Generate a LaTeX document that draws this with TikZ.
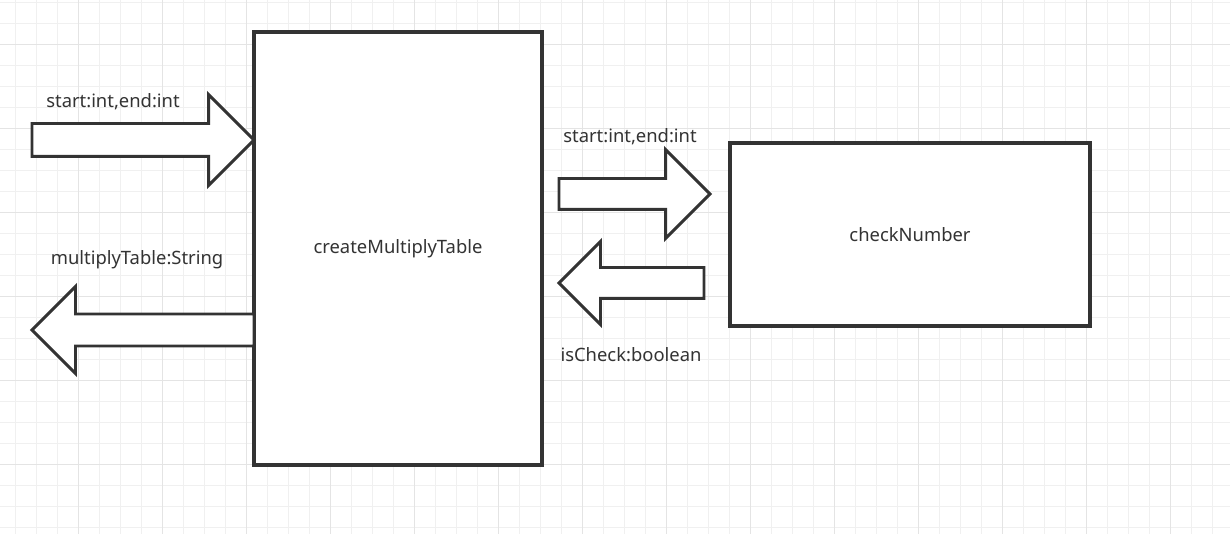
\documentclass[tikz,border=0pt]{standalone}
\usepackage{fontspec}
\setmainfont{Noto Sans}
\usepackage{tikz}
\usetikzlibrary{shapes.arrows, positioning}
\definecolor{ink}{HTML}{333333}
\definecolor{gridminor}{HTML}{F0F0F0}
\definecolor{gridmajor}{HTML}{E4E4E4}
\newcommand{\labelsize}{\fontsize{13.8}{16}\selectfont}

\begin{document}
\begin{tikzpicture}[
  x=0.75pt, y=-0.75pt,
  func/.style={draw=ink, line width=2.7pt, fill=white, inner sep=0pt, outer sep=0pt, text=ink},
  barrow/.style={single arrow, draw=ink, line width=2.2pt, fill=white, inner xsep=0pt, single arrow tip angle=90, outer sep=0pt},
  param/.style={text=ink, inner sep=0pt}
]
  \useasboundingbox (0,0) rectangle (1230,534);
  \fill[white] (0,0) rectangle (1230,534);
  % grid
  \foreach \gx in {0,...,58} \draw[gridminor, line width=1.1pt] ({15.7+21*\gx},0) -- ({15.7+21*\gx},534);
  \foreach \gy in {0,...,25} \draw[gridminor, line width=1.1pt] (0,{2.3+21*\gy}) -- (1230,{2.3+21*\gy});
  \foreach \gx in {0,...,14} \draw[gridmajor, line width=1.1pt] ({78.7+84*\gx},0) -- ({78.7+84*\gx},534);
  \foreach \gy in {0,...,5} \draw[gridmajor, line width=1.1pt] (0,{44.3+84*\gy}) -- (1230,{44.3+84*\gy});

  % functions
  \node[func, minimum width=216pt, minimum height=324.75pt] (create) at (398,248.5) {\labelsize createMultiplyTable};
  \node[func, minimum width=270pt, minimum height=137.25pt] (check) at (910,234.5) {\labelsize checkNumber};

  % data flows
  \node[barrow, anchor=tip, minimum height=222*0.75pt, inner ysep=15*0.75pt, single arrow head extend=29*0.75pt] (inArgs) at (254,140) {};
  \node[barrow, anchor=tip, shape border rotate=180, minimum height=222*0.75pt, inner ysep=14.5*0.75pt, single arrow head extend=27.5*0.75pt] (outTable) at (32,330) {};
  \node[barrow, anchor=tip, minimum height=151*0.75pt, inner ysep=14*0.75pt, single arrow head extend=29*0.75pt] (callArgs) at (710,194) {};
  \node[barrow, anchor=tip, shape border rotate=180, minimum height=145*0.75pt, inner ysep=14*0.75pt, single arrow head extend=26*0.75pt] (retCheck) at (559,283) {};

  % labels
  \node[param] (inLabel) at (113,102) {\labelsize start:int,end:int};
  \node[param] (outLabel) at (137,260) {\labelsize multiplyTable:String};
  \node[param] (callLabel) at (630,137) {\labelsize start:int,end:int};
  \node[param] (retLabel) at (631,355) {\labelsize isCheck:boolean};
\end{tikzpicture}
\end{document}
